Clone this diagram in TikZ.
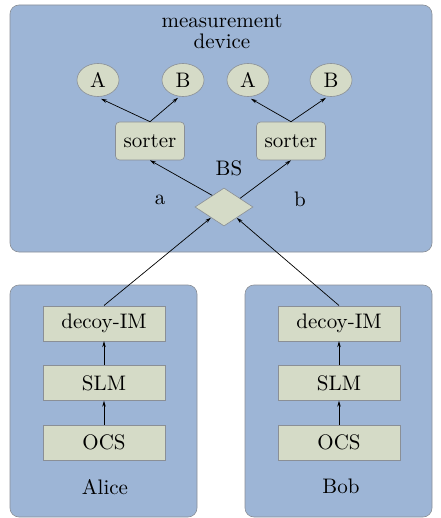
\documentclass[tikz,border=0pt]{standalone}
\usepackage{tikz}
\usetikzlibrary{positioning, arrows.meta, shapes.geometric, calc}

\definecolor{panelblue}{HTML}{9DB5D6}
\definecolor{boxgreen}{HTML}{D5DBC7}
\definecolor{edgegray}{HTML}{8A8F96}

% 10pt design size, enlarged
\font\diagfont="[lmroman10-regular.otf]:mapping=tex-text" at 21pt

\tikzset{
  panel/.style={fill=panelblue, draw=edgegray, line width=0.6pt, rounded corners=9pt},
  blockbox/.style={draw=edgegray, fill=boxgreen, line width=0.6pt, minimum width=122pt, minimum height=35pt, inner sep=0pt},
  sortbox/.style={draw=edgegray, fill=boxgreen, line width=0.6pt, rounded corners=4pt, minimum width=69pt, minimum height=38pt, inner sep=0pt},
  detector/.style={ellipse, draw=edgegray, fill=boxgreen, line width=0.6pt, minimum width=42pt, minimum height=33pt, inner sep=0pt},
  splitter/.style={diamond, draw=edgegray, fill=boxgreen, line width=0.6pt, minimum width=58pt, minimum height=38pt, inner sep=0pt},
  lbl/.style={inner sep=0pt}
}

\begin{document}
\begin{tikzpicture}[x=1pt, y=-1pt, >={Stealth[length=6pt,width=3.5pt]}, font=\fontsize{21}{21}\selectfont\diagfont]
        \useasboundingbox (0,0) rectangle (440,518);
        % Panels
        \draw[panel] (10,5) rectangle (432,252);
        \draw[panel] (10,285) rectangle (197,517);
        \draw[panel] (245,285) rectangle (432,517);

        % Measurement device
        \node (md) [lbl, align=center] at (222,32) {measurement\\device};
        \node (a1) [detector] at (98,80) {A};
        \node (b1) [detector] at (183,80) {B};
        \node (a2) [detector] at (248,80) {A};
        \node (b2) [detector] at (331,80) {B};
        \node (s1) [sortbox] at (150,141) {sorter};
        \node (s2) [sortbox] at (291,141) {sorter};
        \node (bs) [splitter] at (224,207) {};
        \node (bslbl) [lbl] at (229,168) {BS};
        \node (pa) [lbl] at (160,200) {a};
        \node (pb) [lbl] at (300,199) {b};

        % Alice
        \node (ocsA) [blockbox] at (104,442.5) {OCS};
        \node (slmA) [blockbox, above=24pt of ocsA] {SLM};
        \node (imA) [blockbox, above=24pt of slmA] {decoy-IM};
        \node (alice) [lbl] at (105,487) {Alice};

        % Bob
        \node (ocsB) [blockbox] at (339,442.5) {OCS};
        \node (slmB) [blockbox, above=24pt of ocsB] {SLM};
        \node (imB) [blockbox, above=24pt of slmB] {decoy-IM};
        \node (bob) [lbl] at (341,486) {Bob};

        % Arrows
        \draw[->, line width=0.7pt] (ocsA) -- (slmA);
        \draw[->, line width=0.7pt] (slmA) -- (imA);
        \draw[->, line width=0.7pt] (ocsB) -- (slmB);
        \draw[->, line width=0.7pt] (slmB) -- (imB);
        \draw[->, line width=0.7pt] (imA.north) -- (bs);
        \draw[->, line width=0.7pt] (imB.north) -- (bs);
        \draw[->, line width=0.7pt] ($(bs.north)!0.4!(bs.west)$) -- (s1.south);
        \draw[->, line width=0.7pt] ($(bs.north)!0.55!(bs.east)$) -- (s2.south);
        \draw[->, line width=0.7pt] (s1.north) -- ($(a1.south)+(3,2)$);
        \draw[->, line width=0.7pt] (s1.north) -- ($(b1.south)+(-5,1)$);
        \draw[->, line width=0.7pt] (s2.north) -- ($(a2.south)+(3,2)$);
        \draw[->, line width=0.7pt] (s2.north) -- ($(b2.south)+(-5,1)$);

    \end{tikzpicture}
\end{document}
